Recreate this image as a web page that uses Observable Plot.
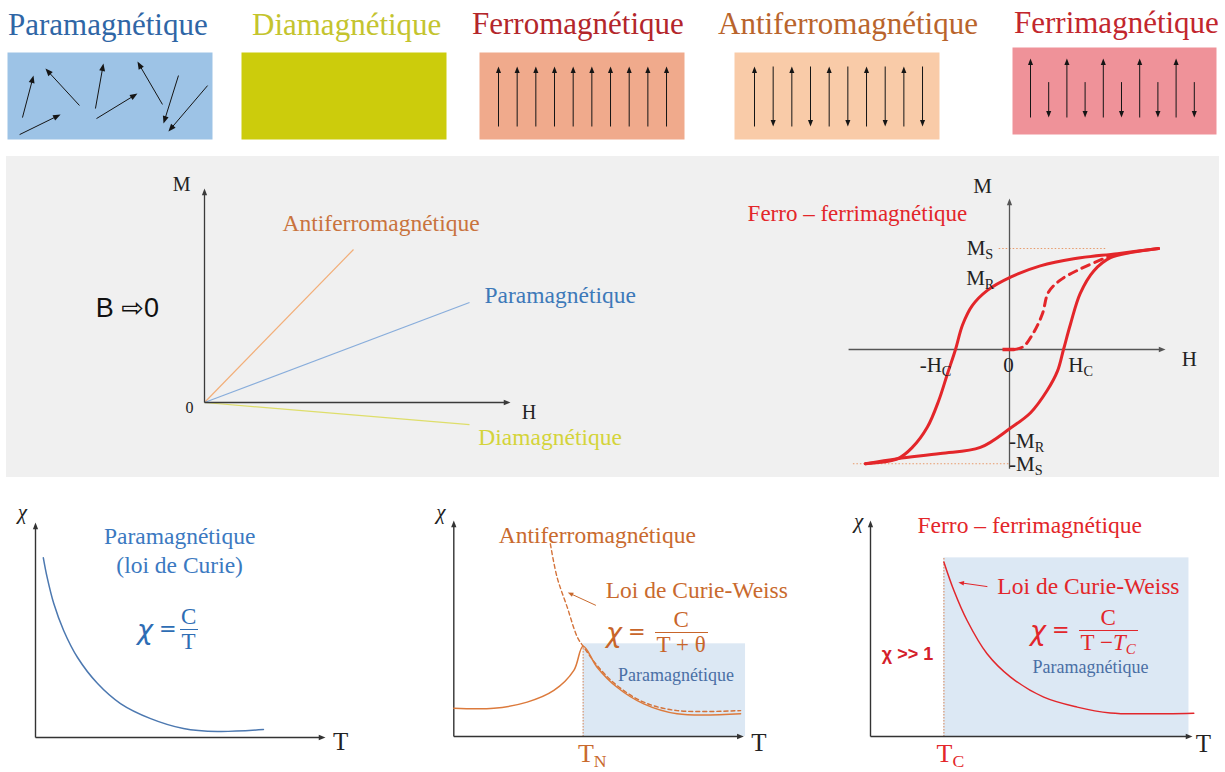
<!DOCTYPE html>
<html>
<head>
<meta charset="utf-8">
<script src="https://cdn.jsdelivr.net/npm/d3@7"></script>
<script src="https://cdn.jsdelivr.net/npm/@observablehq/plot@0.6"></script>
<style>
  body { margin: 0; background: #fff; }
  #fig { position: relative; width: 1225px; height: 772px; overflow: hidden; background: #fff; }
  .title { position: absolute; font-family: "Liberation Serif", serif; font-size: 31px; line-height: 1; white-space: nowrap; }
  .graybg { position: absolute; left: 6px; top: 156px; width: 1213px; height: 321px; background: #f0f0f0; }
  .formula { position: absolute; display: flex; align-items: center; white-space: nowrap; line-height: 1; }
  .formula .chi { font-family: "DejaVu Sans", sans-serif; font-style: italic; font-size: 27px; margin-right: 6px; }
  .formula .eq { font-family: "DejaVu Sans", sans-serif; font-size: 21px; }
  .formula .frac { display: flex; flex-direction: column; text-align: center; font-family: "Liberation Serif", serif; font-size: 23px; }
  .formula .num { line-height: 24px; }
  .formula .den { line-height: 24px; border-top: 1.6px solid currentColor; padding: 0 2px; }
  .formula sub { font-size: 65%; vertical-align: -0.25em; line-height: 0; }
</style>
</head>
<body>
<div id="fig"></div>
<script>
// ================= DATA =================
const titles = ["Paramagnétique", "Diamagnétique", "Ferromagnétique", "Antiferromagnétique", "Ferrimagnétique"];
const titleColors = ["#2f66a6", "#c4c42e", "#b3262b", "#b9642c", "#c2262d"];
const boxColors = ["#9dc3e6", "#cccc0c", "#f0aa8c", "#f9cba8", "#ef9299"];

// random spins of the paramagnet: tail (x1,y1) and head (x2,y2), in box units
const paraSpins = [
  {x1: 0.73, y1: 1.07, x2: 1.27, y2: 3.12},
  {x1: 3.51, y1: 1.66, x2: 1.85, y2: 3.46},
  {x1: 4.29, y1: 1.51, x2: 4.68, y2: 3.71},
  {x1: 0.59, y1: 0.24, x2: 2.59, y2: 1.22},
  {x1: 4.34, y1: 1.02, x2: 6.34, y2: 2.24},
  {x1: 7.56, y1: 1.71, x2: 6.34, y2: 3.80},
  {x1: 8.34, y1: 3.12, x2: 7.61, y2: 0.78},
  {x1: 9.76, y1: 2.63, x2: 7.85, y2: 0.39}
];
const ferroSpins = [1, 1, 1, 1, 1, 1, 1, 1, 1, 1];
const antiferroSpins = [1, -1, 1, -1, 1, -1, 1, -1, 1, -1];
const ferriSpins = [1, -0.6, 1, -0.6, 1, -0.6, 1, -0.6, 1, -0.6];

// M(H) at weak field (B -> 0): straight lines from origin
const mhSeries = ["Antiferromagnétique", "Paramagnétique", "Diamagnétique"];
const mhEndH = [0.487, 0.866, 0.866];
const mhEndM = [0.715, 0.467, -0.103];

// hysteresis loop (H in units of Hc, M in units of Ms)
const loopUpperH = [2.76, 2.00, 1.19, 0.57, 0.02, -0.41, -0.69, -0.87, -1.00, -1.15, -1.31, -1.52, -1.80, -2.07, -2.67];
const loopUpperM = [0.99, 0.94, 0.89, 0.82, 0.71, 0.58, 0.43, 0.24, 0.00, -0.24, -0.50, -0.76, -0.96, -1.07, -1.12];
const loopLowerH = [-2.67, -2.07, -1.28, -0.54, 0.02, 0.39, 0.70, 0.89, 1.00, 1.13, 1.31, 1.56, 1.87, 2.24, 2.76];
const loopLowerM = [-1.12, -1.07, -1.02, -0.96, -0.77, -0.62, -0.40, -0.21, 0.00, 0.25, 0.55, 0.77, 0.90, 0.95, 0.99];
const firstMagH = [0.09, 0.26, 0.44, 0.61, 0.72, 0.94, 1.31, 1.74, 1.93];
const firstMagM = [0.00, 0.03, 0.16, 0.35, 0.56, 0.68, 0.79, 0.89, 0.93];
const loopLabels = ["M_S", "M_R", "-H_C", "0", "H_C", "-M_R", "-M_S"];

// chi(T) curves
const curieT   = [0.27, 0.40, 0.63, 0.97, 1.45, 2.14, 2.93, 3.97, 5.10, 6.28, 7.86];
const curieChi = [8.36, 7.46, 6.23, 4.98, 3.72, 2.51, 1.58, 0.88, 0.42, 0.28, 0.37];

const afT   = [0.00, 1.38, 2.53, 3.45, 4.14, 4.46, 4.94, 5.63, 6.55, 7.70, 9.89];
const afChi = [1.31, 1.31, 1.59, 2.13, 3.06, 4.18, 3.21, 2.28, 1.51, 1.05, 1.05];
const afCwT   = [3.33, 3.56, 3.91, 4.26, 4.46, 4.94, 5.63, 6.55, 7.70, 9.89];
const afCwChi = [8.92, 7.38, 5.99, 4.60, 4.18, 3.29, 2.36, 1.59, 1.20, 1.20];
const tNeel = 4.46;

const fT   = [2.28, 2.59, 3.00, 3.62, 4.35, 5.38, 6.42, 7.45, 8.49, 10.04];
const fChi = [8.07, 6.76, 5.37, 3.83, 2.75, 1.82, 1.36, 1.09, 1.05, 1.08];
const tCurie = 2.28;

// ================= HELPERS =================
const fig = document.getElementById("fig");
const SERIF = "Liberation Serif, Times New Roman, serif";
const SANS = "Liberation Sans, Arial, DejaVu Sans, sans-serif";
const zip = (xs, ys) => xs.map((x, i) => ({x, y: ys[i]}));

const headSymbol = {
  draw(ctx, size) {
    const r = Math.sqrt(size / Math.PI);
    const L = 2.8 * r, w = 1.1 * r;
    ctx.moveTo(0, 0); ctx.lineTo(w, L); ctx.lineTo(-w, L); ctx.closePath();
  }
};

function arrowMarks(data, ux, uy, {stroke = "#111", strokeWidth = 1, r = 2.4} = {}) {
  const L = 2.8 * r;
  const geo = data.map(d => {
    const dx = (d.x2 - d.x1) * ux, dy = (d.y2 - d.y1) * uy;
    const len = Math.hypot(dx, dy) || 1;
    const back = Math.min(L * 0.7, len);
    return {...d, sx: d.x2 - dx / len * back / ux, sy: d.y2 - dy / len * back / uy,
            angle: Math.atan2(dx, dy) * 180 / Math.PI};
  });
  return [
    Plot.link(geo, {x1: "x1", y1: "y1", x2: "sx", y2: "sy", stroke, strokeWidth}),
    Plot.dot(geo, {x: "x2", y: "y2", r, symbol: headSymbol, fill: stroke, rotate: "angle"})
  ];
}

function textMarks(items) {
  return items.map(d => Plot.text([d], {
    x: "x", y: "y", text: "t", textAnchor: d.a || "start", lineAnchor: "bottom",
    fill: d.c, fontSize: d.s, fontFamily: d.f || SERIF,
    fontStyle: d.i ? "italic" : "normal", fontWeight: d.b ? "bold" : "normal"
  }));
}

function subscripts(svg) {
  d3.select(svg).selectAll("text").each(function () {
    const t = this.textContent;
    const k = t.indexOf("_");
    if (k < 0) return;
    const sel = d3.select(this);
    sel.text(null);
    sel.append("tspan").text(t.slice(0, k));
    sel.append("tspan").attr("font-size", "68%").attr("dy", "0.28em").text(t.slice(k + 1));
  });
}

function addPlot(p, marks) {
  const {left, top, width, height, ox, oy, ux, uy} = p;
  const svg = Plot.plot({
    width, height, margin: 0,
    x: {domain: [(left - ox) / ux, (left + width - ox) / ux], axis: null},
    y: {domain: [(oy - top - height) / uy, (oy - top) / uy], axis: null},
    marks
  });
  Object.assign(svg.style, {position: "absolute", left: left + "px", top: top + "px",
    background: "transparent", overflow: "visible", maxWidth: "none"});
  subscripts(svg);
  fig.append(svg);
}

function addHTML(cls, html, style) {
  const el = document.createElement("div");
  el.className = cls;
  el.innerHTML = html;
  Object.assign(el.style, style);
  fig.append(el);
  return el;
}

// ================= TOP ROW =================
const titleLeft = [8, 252, 472, 718, 1014];
const titleBase = [35, 35, 34, 34, 33];
titles.forEach((t, i) => {
  const el = addHTML("title", "", {left: titleLeft[i] + "px", top: (titleBase[i] - 26) + "px", color: titleColors[i]});
  el.textContent = t;
});

const boxLayout = [
  {left: 7,    top: 52, width: 205, height: 87, ox: 7,    oy: 139, ux: 20.5,  uy: 20.5},
  {left: 241,  top: 52, width: 205, height: 87, ox: 241,  oy: 139, ux: 20.5,  uy: 20.5},
  {left: 479,  top: 52, width: 205, height: 87, ox: 498,  oy: 96,  ux: 18.67, uy: 30},
  {left: 734,  top: 52, width: 205, height: 87, ox: 754,  oy: 96,  ux: 18.67, uy: 30},
  {left: 1012, top: 47, width: 204, height: 87, ox: 1030, oy: 117, ux: 18.2,  uy: 59}
];
const symmetric = s => s.map((v, i) => ({x1: i, y1: -v, x2: i, y2: v}));
const columns = s => s.map((v, i) => v > 0 ? {x1: i, y1: 0, x2: i, y2: v} : {x1: i, y1: -v, x2: i, y2: 0});
const boxArrows = [paraSpins, [], symmetric(ferroSpins), symmetric(antiferroSpins), columns(ferriSpins)];

boxLayout.forEach((p, i) => {
  const marks = [Plot.frame({fill: boxColors[i], stroke: "none"})];
  if (boxArrows[i].length) marks.push(...arrowMarks(boxArrows[i], p.ux, p.uy, {stroke: "#151515", strokeWidth: 1, r: i === 0 ? 2.7 : 2.3}));
  addPlot(p, marks);
});

// ================= MIDDLE GRAY PANEL =================
addHTML("graybg", "", {});

// --- M(H) lines ---
const mhP = {left: 60, top: 165, width: 600, height: 305, ox: 204, oy: 402, ux: 306, uy: 214};
const mhLineColors = ["#f2ae78", "#88addb", "#dede6a"];
const mhTextColors = ["#c9733e", "#3d79b9", "#d4d43a"];
addPlot(mhP, [
  ...mhSeries.map((s, i) => Plot.link([{H: mhEndH[i], M: mhEndM[i]}], {x1: 0, y1: 0, x2: "H", y2: "M", stroke: mhLineColors[i], strokeWidth: 1.2})),
  ...arrowMarks([{x1: 0, y1: 0, x2: 1, y2: 0}, {x1: 0, y1: 0, x2: 0, y2: 1}], mhP.ux, mhP.uy, {stroke: "#3a3a3a", strokeWidth: 1.3, r: 2.4}),
  ...textMarks([
    {t: "M", x: -0.075, y: 0.99, a: "middle", s: 20, c: "#222"},
    {t: "H", x: 1.06, y: -0.075, a: "middle", s: 20, c: "#222"},
    {t: "0", x: -0.049, y: -0.05, a: "middle", s: 16, c: "#222"},
    {t: "B ⇨0", x: -0.252, y: 0.40, a: "middle", s: 27, c: "#111", f: SANS},
    {t: mhSeries[0], x: 0.255, y: 0.80, s: 23.5, c: mhTextColors[0]},
    {t: mhSeries[1], x: 0.915, y: 0.467, s: 23.5, c: mhTextColors[1]},
    {t: mhSeries[2], x: 0.895, y: -0.20, s: 23.5, c: mhTextColors[2]}
  ])
]);

// --- hysteresis loop ---
const hyP = {left: 720, top: 165, width: 500, height: 310, ox: 1009, oy: 349, ux: 54, uy: 102};
const RED = "#e3262a";
addPlot(hyP, [
  Plot.link([{y: loopUpperM[0]}], {x1: -0.2, x2: 1.8, y1: "y", y2: "y", stroke: "#e89a6a", strokeWidth: 1, strokeDasharray: "1.5,2"}),
  Plot.link([{y: loopUpperM[loopUpperM.length - 1]}], {x1: -2.9, x2: 0, y1: "y", y2: "y", stroke: "#e89a6a", strokeWidth: 1, strokeDasharray: "1.5,2"}),
  ...arrowMarks([{x1: -2.98, y1: 0, x2: 2.89, y2: 0}, {x1: 0, y1: -1.17, x2: 0, y2: 1.48}], hyP.ux, hyP.uy, {stroke: "#555", strokeWidth: 1.3, r: 2.4}),
  Plot.line(zip(loopUpperH, loopUpperM), {x: "x", y: "y", stroke: RED, strokeWidth: 3, curve: "catmull-rom"}),
  Plot.line(zip(loopLowerH, loopLowerM), {x: "x", y: "y", stroke: RED, strokeWidth: 3, curve: "catmull-rom"}),
  Plot.line(zip(firstMagH, firstMagM), {x: "x", y: "y", stroke: RED, strokeWidth: 3, strokeDasharray: "8,6", curve: "catmull-rom"}),
  Plot.link([{a: -0.13, b: firstMagH[0]}], {x1: "a", x2: "b", y1: 0, y2: 0, stroke: RED, strokeWidth: 3.5}),
  ...textMarks([
    {t: "M", x: -0.50, y: 1.53, a: "middle", s: 21, c: "#222"},
    {t: "H", x: 3.33, y: -0.16, a: "middle", s: 21, c: "#222"},
    {t: "Ferro – ferrimagnétique", x: -4.85, y: 1.26, s: 23, c: RED},
    {t: loopLabels[0], x: -0.30, y: 0.93, a: "end", s: 21, c: "#222"},
    {t: loopLabels[1], x: -0.28, y: 0.63, a: "end", s: 21, c: "#222"},
    {t: loopLabels[2], x: -1.37, y: -0.225, a: "middle", s: 21, c: "#222"},
    {t: loopLabels[3], x: -0.02, y: -0.225, a: "middle", s: 21, c: "#222"},
    {t: loopLabels[4], x: 1.09, y: -0.225, s: 21, c: "#222"},
    {t: loopLabels[5], x: -0.01, y: -0.97, s: 21, c: "#222"},
    {t: loopLabels[6], x: -0.01, y: -1.19, s: 21, c: "#222"}
  ])
]);

// ================= BOTTOM ROW =================
const AX = "#333";
const axes = (p) => arrowMarks([{x1: 0, y1: 0, x2: 10, y2: 0}, {x1: 0, y1: 0, x2: 0, y2: 10}], p.ux, p.uy, {stroke: AX, strokeWidth: 1.4, r: 2.4});

// --- Curie law ---
const blP = {left: 0, top: 495, width: 390, height: 277, ox: 35, oy: 737, ux: 29, uy: 21.5};
const BLUE = "#3b79c1";
addPlot(blP, [
  ...axes(blP),
  Plot.line(zip(curieT, curieChi), {x: "x", y: "y", stroke: "#4c78b0", strokeWidth: 1.5, curve: "catmull-rom"}),
  ...textMarks([
    {t: "χ", x: -0.45, y: 10.14, a: "middle", s: 21, c: "#222", i: true},
    {t: "T", x: 10.52, y: -0.60, a: "middle", s: 25, c: "#222"},
    {t: "Paramagnétique", x: 4.97, y: 9.02, a: "middle", s: 23.5, c: BLUE},
    {t: "(loi de Curie)", x: 4.97, y: 7.67, a: "middle", s: 23.5, c: BLUE}
  ])
]);

// --- Antiferromagnet ---
const bmP = {left: 400, top: 495, width: 405, height: 277, ox: 453.3, oy: 736, ux: 29, uy: 21.6};
const ORANGE = "#c96a2e";
addPlot(bmP, [
  Plot.rect([{a: tNeel, b: 10.06, c: 0, d: 4.29}], {x1: "a", x2: "b", y1: "c", y2: "d", fill: "#dce8f4"}),
  Plot.link([{t: tNeel}], {x1: "t", x2: "t", y1: 0, y2: 4.18, stroke: "#d8875a", strokeWidth: 1, strokeDasharray: "1.5,1.5"}),
  ...axes(bmP),
  Plot.line(zip(afCwT, afCwChi), {x: "x", y: "y", stroke: "#d4733a", strokeWidth: 1.4, strokeDasharray: "4,3", curve: "catmull-rom"}),
  Plot.line(zip(afT, afChi), {x: "x", y: "y", stroke: "#dc7a3c", strokeWidth: 1.5, curve: "catmull-rom"}),
  ...arrowMarks([{x1: 4.90, y1: 6.07, x2: 3.93, y2: 6.67}], bmP.ux, bmP.uy, {stroke: "#c96a2e", strokeWidth: 1, r: 2.0}),
  ...textMarks([
    {t: "χ", x: -0.45, y: 10.05, a: "middle", s: 21, c: "#222", i: true},
    {t: "T", x: 10.52, y: -0.65, a: "middle", s: 25, c: "#222"},
    {t: "T_N", x: 4.28, y: -1.18, s: 26, c: ORANGE},
    {t: "Antiferromagnétique", x: 1.55, y: 8.98, s: 23.5, c: ORANGE},
    {t: "Loi de Curie-Weiss", x: 5.24, y: 6.39, s: 23.5, c: ORANGE},
    {t: "Paramagnétique", x: 5.66, y: 2.59, s: 18, c: "#4a6fa5"}
  ])
]);

// --- Ferro / ferrimagnet ---
const brP = {left: 810, top: 495, width: 415, height: 277, ox: 870, oy: 736, ux: 32.2, uy: 21.6};
addPlot(brP, [
  Plot.rect([{a: tCurie, b: 9.89, c: 0, d: 8.27}], {x1: "a", x2: "b", y1: "c", y2: "d", fill: "#dce8f4"}),
  Plot.link([{t: tCurie}], {x1: "t", x2: "t", y1: 0, y2: 8.27, stroke: "#d8875a", strokeWidth: 1, strokeDasharray: "1.5,1.5"}),
  ...axes(brP),
  Plot.line(zip(fT, fChi), {x: "x", y: "y", stroke: "#e2262b", strokeWidth: 1.5, curve: "catmull-rom"}),
  ...arrowMarks([{x1: 3.63, y1: 6.94, x2: 2.73, y2: 7.13}], brP.ux, brP.uy, {stroke: "#e2262b", strokeWidth: 1, r: 2.0}),
  ...textMarks([
    {t: "χ", x: -0.37, y: 9.63, a: "middle", s: 21, c: "#222", i: true},
    {t: "T", x: 10.34, y: -0.74, a: "middle", s: 25, c: "#222"},
    {t: "T_C", x: 2.05, y: -1.16, s: 26, c: RED},
    {t: "Ferro – ferrimagnétique", x: 1.46, y: 9.44, s: 23.5, c: RED},
    {t: "Loi de Curie-Weiss", x: 3.94, y: 6.62, s: 23.5, c: RED},
    {t: "Paramagnétique", x: 5.03, y: 2.96, s: 18, c: "#4a6fa5"},
    {t: "χ >> 1", x: 1.15, y: 3.52, a: "middle", s: 18, c: "#d4202a", f: SANS, b: true}
  ])
]);

// ================= FORMULAS =================
function formula(left, barY, color, num, den, gap) {
  addHTML("formula",
    `<span class="chi">χ</span><span class="eq" style="margin-right:${gap}px">=</span>` +
    `<span class="frac"><span class="num">${num}</span><span class="den">${den}</span></span>`,
    {left: left + "px", top: (barY - 24) + "px", color});
}
formula(137, 629, "#2e6db4", "C", "T", 3);
formula(606, 632, "#c8652a", "C", "T + θ", 9);
formula(1030, 630, "#e2262b", "C", "T −<i>T</i><sub><i>C</i></sub>", 9);
</script>
</body>
</html>
